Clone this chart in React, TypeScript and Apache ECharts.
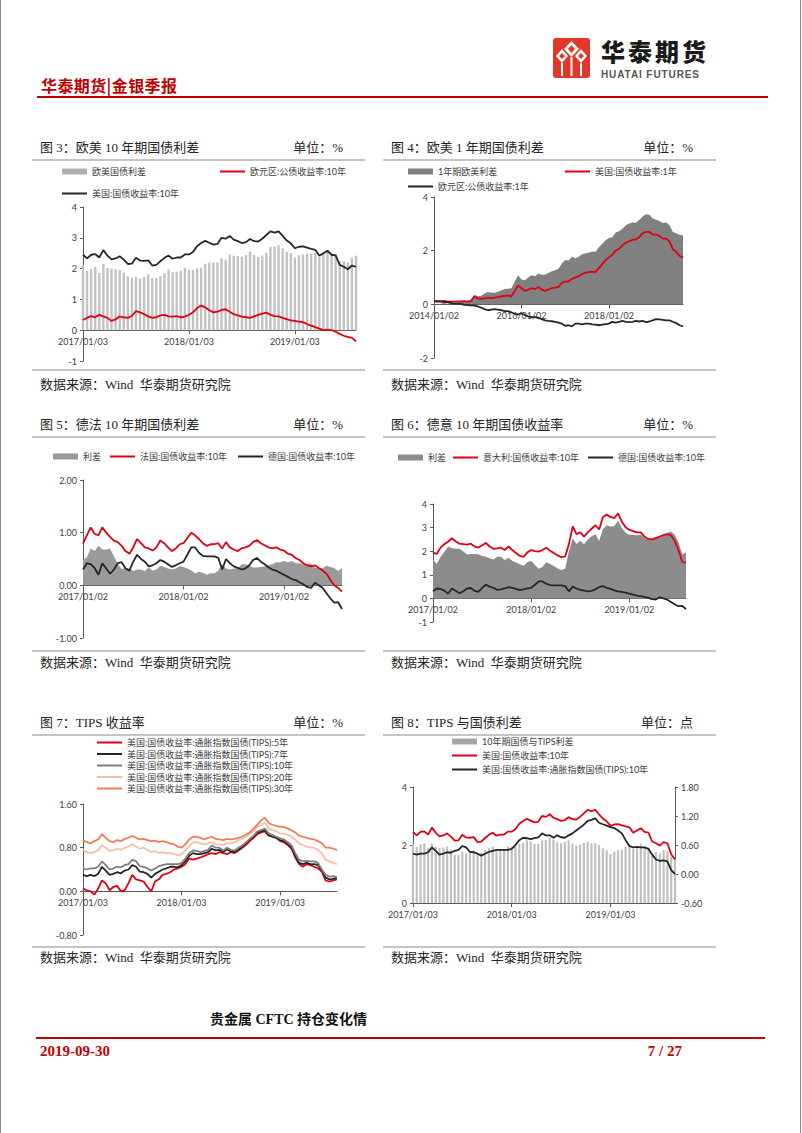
import React, { useEffect, useRef } from "react";
import * as echarts from "echarts";

// ---------- tick labels ----------
const ticks2017a = ["2017/01/03", "2018/01/03", "2019/01/03"];
const ticks2017b = ["2017/01/02", "2018/01/02", "2019/01/02"];
const ticks2014 = ["2014/01/02", "2016/01/02", "2018/01/02"];

// ---------- series values (~2-week steps) ----------
const usTen = [2.45, 2.33, 2.45, 2.47, 2.36, 2.6, 2.42, 2.3, 2.33, 2.4, 2.29, 2.15, 2.16, 2.35, 2.26, 2.25, 2.27, 2.1, 2.12, 2.24, 2.35, 2.42, 2.32, 2.36, 2.36, 2.46,
  2.46, 2.54, 2.73, 2.83, 2.9, 2.84, 2.78, 2.8, 3.0, 2.97, 3.06, 2.94, 2.89, 2.83, 2.86, 2.96, 2.89, 2.88, 2.97, 3.09, 3.21, 3.17, 3.21, 3.06, 2.91, 2.82,
  2.66, 2.71, 2.72, 2.68, 2.64, 2.61, 2.42, 2.5, 2.58, 2.45, 2.43, 2.12, 2.06, 1.98, 2.1, 2.06, 1.68, 1.5];
const euTen = [0.33, 0.4, 0.46, 0.42, 0.5, 0.45, 0.4, 0.3, 0.35, 0.45, 0.42, 0.4, 0.46, 0.62, 0.58, 0.52, 0.45, 0.4, 0.42, 0.48, 0.5, 0.45, 0.44, 0.46, 0.42, 0.44,
  0.5, 0.58, 0.72, 0.8, 0.74, 0.65, 0.58, 0.6, 0.66, 0.68, 0.6, 0.52, 0.48, 0.44, 0.42, 0.4, 0.45, 0.5, 0.54, 0.57, 0.5, 0.46, 0.45, 0.4, 0.36, 0.32,
  0.3, 0.28, 0.26, 0.2, 0.15, 0.1, 0.05, 0.0, 0.02, 0.0, -0.05, -0.12, -0.18, -0.22, -0.25, -0.36];

// 4-week steps from 2014/01/02
const usOne = [0.13, 0.1, 0.12, 0.13, 0.1, 0.1, 0.1, 0.11, 0.11, 0.12, 0.1, 0.13, 0.3, 0.22, 0.2, 0.22, 0.24, 0.23, 0.25, 0.27, 0.3, 0.32, 0.33, 0.3, 0.5, 0.7,
  0.6, 0.5, 0.55, 0.6, 0.57, 0.65, 0.55, 0.5, 0.55, 0.6, 0.62, 0.65, 0.8, 0.85, 0.85, 0.95, 1.0, 1.05, 1.12, 1.18, 1.2, 1.22, 1.2, 1.35, 1.5, 1.65,
  1.75, 1.85, 2.0, 2.07, 2.2, 2.3, 2.35, 2.4, 2.42, 2.5, 2.65, 2.7, 2.7, 2.6, 2.6, 2.55, 2.45, 2.45, 2.35, 2.05, 1.95, 1.8, 1.75];
const euOne = [0.1, 0.12, 0.1, 0.08, 0.08, 0.05, 0.03, 0.03, 0.02, -0.02, -0.03, -0.04, -0.05, -0.08, -0.12, -0.18, -0.22, -0.2, -0.18, -0.2, -0.22, -0.25, -0.25, -0.3, -0.35, -0.38,
  -0.33, -0.4, -0.45, -0.48, -0.48, -0.5, -0.55, -0.6, -0.62, -0.63, -0.65, -0.68, -0.72, -0.8, -0.78, -0.82, -0.72, -0.72, -0.75, -0.72, -0.72, -0.75, -0.76, -0.78, -0.76, -0.74,
  -0.72, -0.65, -0.68, -0.65, -0.62, -0.65, -0.66, -0.65, -0.62, -0.64, -0.62, -0.66, -0.64, -0.6, -0.55, -0.56, -0.58, -0.6, -0.6, -0.65, -0.7, -0.78, -0.82];

const frTen = [0.79, 0.95, 1.1, 0.98, 0.95, 1.1, 1.0, 0.92, 0.85, 0.82, 0.75, 0.65, 0.6, 0.72, 0.88, 0.8, 0.72, 0.7, 0.66, 0.72, 0.85, 0.8, 0.72, 0.65, 0.7, 0.78,
  0.8, 0.9, 1.0, 0.95, 0.88, 0.8, 0.75, 0.78, 0.78, 0.8, 0.7, 0.82, 0.72, 0.68, 0.65, 0.7, 0.72, 0.75, 0.82, 0.86, 0.8, 0.76, 0.72, 0.7, 0.72, 0.68,
  0.66, 0.6, 0.58, 0.52, 0.48, 0.42, 0.38, 0.36, 0.38, 0.33, 0.28, 0.22, 0.1, 0.0, -0.05, -0.12];
const deTen = [0.3, 0.42, 0.4, 0.33, 0.2, 0.42, 0.32, 0.22, 0.3, 0.42, 0.44, 0.32, 0.28, 0.45, 0.58, 0.5, 0.45, 0.36, 0.38, 0.42, 0.48, 0.45, 0.4, 0.35, 0.38, 0.42,
  0.45, 0.58, 0.72, 0.72, 0.62, 0.56, 0.55, 0.55, 0.55, 0.52, 0.3, 0.5, 0.42, 0.36, 0.33, 0.3, 0.32, 0.38, 0.48, 0.52, 0.45, 0.4, 0.34, 0.3, 0.28, 0.24,
  0.2, 0.16, 0.12, 0.1, 0.06, 0.02, -0.03, -0.05, 0.05, 0.0, -0.05, -0.15, -0.25, -0.33, -0.32, -0.45];
const itTen = [1.95, 1.88, 2.15, 2.3, 2.4, 2.55, 2.42, 2.32, 2.3, 2.28, 2.32, 2.2, 2.15, 2.25, 2.35, 2.2, 2.1, 2.12, 2.15, 2.05, 2.2, 2.05, 1.92, 1.8, 1.76, 1.95,
  2.05, 2.0, 1.98, 2.05, 2.15, 2.02, 1.92, 1.82, 1.75, 1.78, 2.3, 3.05, 2.72, 2.8, 2.62, 2.8, 2.95, 3.1, 2.92, 3.45, 3.55, 3.45, 3.4, 3.6, 3.25, 3.02,
  2.9, 2.85, 2.8, 2.8, 2.62, 2.52, 2.5, 2.55, 2.62, 2.68, 2.72, 2.68, 2.45, 2.05, 1.55, 1.5];

const tips5 = [0.05, 0.02, 0.0, -0.06, 0.05, 0.2, 0.15, 0.02, 0.08, 0.1, 0.0, 0.02, 0.15, 0.3, 0.22, 0.2, 0.18, 0.08, 0.0, 0.18, 0.22, 0.3, 0.32, 0.35, 0.4, 0.42,
  0.45, 0.5, 0.6, 0.58, 0.6, 0.62, 0.65, 0.68, 0.7, 0.68, 0.72, 0.7, 0.68, 0.72, 0.7, 0.75, 0.8, 0.85, 0.92, 0.98, 1.05, 1.08, 1.1, 1.02, 1.0, 0.98,
  0.92, 0.9, 0.85, 0.78, 0.62, 0.5, 0.45, 0.5, 0.48, 0.45, 0.42, 0.36, 0.2, 0.18, 0.2, 0.22];
const tips7 = [0.3, 0.28, 0.3, 0.28, 0.32, 0.45, 0.38, 0.3, 0.32, 0.35, 0.33, 0.38, 0.4, 0.48, 0.45, 0.36, 0.35, 0.32, 0.25, 0.32, 0.36, 0.4, 0.42, 0.45, 0.45, 0.44,
  0.48, 0.55, 0.65, 0.7, 0.68, 0.68, 0.7, 0.72, 0.78, 0.75, 0.76, 0.72, 0.77, 0.73, 0.72, 0.76, 0.82, 0.88, 0.95, 1.0, 1.08, 1.1, 1.12, 1.03, 1.0, 0.98,
  0.94, 0.92, 0.87, 0.8, 0.65, 0.52, 0.5, 0.52, 0.5, 0.5, 0.48, 0.38, 0.25, 0.22, 0.23, 0.25];
const tips10 = [0.42, 0.4, 0.42, 0.42, 0.45, 0.55, 0.48, 0.4, 0.42, 0.45, 0.44, 0.48, 0.5, 0.58, 0.55, 0.46, 0.45, 0.42, 0.38, 0.42, 0.46, 0.48, 0.5, 0.5, 0.5, 0.5,
  0.52, 0.6, 0.7, 0.75, 0.74, 0.72, 0.74, 0.76, 0.84, 0.8, 0.8, 0.75, 0.8, 0.76, 0.75, 0.8, 0.84, 0.9, 0.96, 1.02, 1.1, 1.12, 1.15, 1.06, 1.03, 1.0,
  0.97, 0.95, 0.9, 0.84, 0.7, 0.58, 0.55, 0.56, 0.55, 0.55, 0.52, 0.4, 0.3, 0.27, 0.28, 0.26, 0.08, 0.0];
const tips20 = [0.76, 0.72, 0.7, 0.72, 0.75, 0.85, 0.8, 0.74, 0.75, 0.78, 0.76, 0.8, 0.82, 0.86, 0.82, 0.78, 0.8, 0.76, 0.72, 0.74, 0.7, 0.72, 0.7, 0.7, 0.68, 0.66,
  0.68, 0.75, 0.82, 0.9, 0.9, 0.88, 0.86, 0.88, 0.9, 0.86, 0.86, 0.85, 0.88, 0.88, 0.9, 0.94, 0.96, 1.0, 1.05, 1.1, 1.18, 1.22, 1.26, 1.15, 1.12, 1.1,
  1.06, 1.05, 1.04, 1.0, 0.94, 0.88, 0.85, 0.82, 0.8, 0.8, 0.76, 0.7, 0.58, 0.55, 0.52, 0.5];
const tips30 = [0.94, 0.9, 0.88, 0.92, 0.95, 1.05, 0.98, 0.92, 0.9, 0.94, 0.92, 0.96, 0.98, 1.02, 0.98, 0.95, 0.96, 0.94, 0.92, 0.93, 0.9, 0.92, 0.9, 0.88, 0.86, 0.82,
  0.8, 0.86, 0.95, 1.0, 1.0, 0.98, 0.95, 0.98, 1.0, 0.96, 0.95, 0.94, 0.96, 0.95, 0.96, 0.98, 1.0, 1.04, 1.08, 1.15, 1.22, 1.3, 1.35, 1.25, 1.22, 1.2,
  1.18, 1.18, 1.15, 1.12, 1.08, 1.02, 1.0, 0.98, 0.96, 0.95, 0.92, 0.88, 0.8, 0.8, 0.78, 0.76];

// ---------- helpers ----------
function makeDates(start: string, stepDays: number, n: number) {
  const [y, m, d] = start.split("/").map(Number);
  const t0 = Date.UTC(y, m - 1, d);
  const p = (v: number) => String(v).padStart(2, "0");
  return Array.from({ length: n }, (_, i) => {
    const dt = new Date(t0 + i * stepDays * 86400000);
    return `${dt.getUTCFullYear()}/${p(dt.getUTCMonth() + 1)}/${p(dt.getUTCDate())}`;
  });
}
const spread = (a: number[], b: number[], n: number) =>
  a.slice(0, n).map((v, i) => Math.round((v - b[i]) * 100) / 100);

const datesA = makeDates("2017/01/03", 14, 70);
const datesB = makeDates("2017/01/02", 14, 68);
const datesC = makeDates("2014/01/02", 28, 75);

const RED = "#e00012";
const BLACK = "#262626";
const AX = "#595959";
const NUM_FONT = "Lato, 'Noto Sans', sans-serif";
const CJK_FONT = "Lato, 'Noto Sans CJK SC', sans-serif";
const SERIF = "'Liberation Serif', 'Noto Sans CJK SC', serif";

// x axis placed at the zero of the value axis (offset from the grid bottom)
function xCat(dates: string[], labels: string[], every: number, gridH: number, yMin: number, yMax: number) {
  const offset = -gridH * (0 - yMin) / (yMax - yMin);
  return {
    type: "category",
    data: dates,
    boundaryGap: false,
    offset,
    axisLine: { onZero: false, lineStyle: { color: AX, width: 1 } },
    axisTick: { show: true, length: 4, interval: (i: number) => i % every === 0, lineStyle: { color: AX } },
    axisLabel: {
      interval: (i: number) => i % every === 0,
      formatter: (_v: string, i: number) => labels[Math.round(i / every)] ?? "",
      fontFamily: NUM_FONT, fontSize: 9, color: "#404040", margin: 7,
    },
    splitLine: { show: false },
  };
}
function yVal(min: number, max: number, interval: number, dec: number, position = "left") {
  return {
    type: "value", position, min, max, interval,
    axisLine: { show: true, onZero: false, lineStyle: { color: AX } },
    axisTick: { show: true, length: 3, lineStyle: { color: AX } },
    splitLine: { show: false },
    axisLabel: { formatter: (v: number) => v.toFixed(dec), fontFamily: NUM_FONT, fontSize: 9, color: "#404040", margin: 6 },
  };
}
function leg(name: string, left: number, top: number, color: string, thick: boolean) {
  return {
    left, top, padding: 0, itemWidth: 25, itemHeight: thick ? 6 : 2, itemGap: 0, selectedMode: false,
    icon: "rect", itemStyle: { borderWidth: 0 },
    textStyle: { fontFamily: CJK_FONT, fontSize: 9, color: "#404040" },
    data: [{ name, icon: "rect", itemStyle: { color, borderWidth: 0 } }],
  };
}
const line = (name: string, data: number[], color: string, yAxisIndex = 0) => ({
  type: "line", name, data, yAxisIndex, symbol: "none", showSymbol: false,
  lineStyle: { color, width: 1.8 }, itemStyle: { color },
});
const area = (name: string, data: number[], color: string) => ({
  type: "line", name, data, symbol: "none", showSymbol: false,
  lineStyle: { width: 0, color }, itemStyle: { color }, areaStyle: { color, opacity: 1 },
});
const bar = (name: string, data: number[], color: string, w: number) => ({
  type: "bar", name, data, barWidth: w, itemStyle: { color },
});

// ---------- options ----------
const opt3 = {
  grid: { left: 53, top: 44, width: 273, height: 154 },
  legend: [
    leg("欧美国债利差", 32, 4, "#b0b0b0", true),
    leg("欧元区:公债收益率:10年", 190, 4, RED, false),
    leg("美国:国债收益率:10年", 32, 26, BLACK, false),
  ],
  xAxis: xCat(datesA.slice(0, 68), ticks2017a, 26, 154, -1, 4),
  yAxis: yVal(-1, 4, 1, 0),
  series: [
    bar("欧美国债利差", spread(usTen, euTen, 68), "#c2c2c2", 2.4),
    line("欧元区:公债收益率:10年", euTen, RED),
    line("美国:国债收益率:10年", usTen.slice(0, 68), BLACK),
  ],
};
const opt4 = {
  grid: { left: 49, top: 34, width: 249, height: 161 },
  legend: [
    leg("1年期欧美利差", 23, 4, "#808080", true),
    leg("美国:国债收益率:1年", 180, 4, RED, false),
    leg("欧元区:公债收益率:1年", 23, 19, BLACK, false),
  ],
  xAxis: xCat(datesC, ticks2014, 26, 161, -2, 4),
  yAxis: yVal(-2, 4, 2, 0),
  series: [
    area("1年期欧美利差", spread(usOne, euOne, 75), "#808080"),
    line("美国:国债收益率:1年", usOne, RED),
    line("欧元区:公债收益率:1年", euOne, BLACK),
  ],
};
const opt5 = {
  grid: { left: 53, top: 40, width: 259, height: 158 },
  legend: [
    leg("利差", 23, 12, "#999999", true),
    leg("法国:国债收益率:10年", 80, 12, RED, false),
    leg("德国:国债收益率:10年", 208, 12, BLACK, false),
  ],
  xAxis: xCat(datesB, ticks2017b, 26, 158, -1, 2),
  yAxis: yVal(-1, 2, 1, 2),
  series: [
    area("利差", spread(frTen, deTen, 68), "#9a9a9a"),
    line("法国:国债收益率:10年", frTen, RED),
    line("德国:国债收益率:10年", deTen, BLACK),
  ],
};
const opt6 = {
  grid: { left: 48, top: 64, width: 253, height: 118 },
  legend: [
    leg("利差", 13, 13, "#8c8c8c", true),
    leg("意大利:国债收益率:10年", 68, 13, RED, false),
    leg("德国:国债收益率:10年", 203, 13, BLACK, false),
  ],
  xAxis: xCat(datesB, ticks2017b, 26, 118, -1, 4),
  yAxis: yVal(-1, 4, 1, 0),
  series: [
    area("利差", spread(itTen, deTen, 68), "#8c8c8c"),
    line("意大利:国债收益率:10年", itTen, RED),
    line("德国:国债收益率:10年", deTen, BLACK),
  ],
};
const tipsNames = [
  "美国:国债收益率:通胀指数国债(TIPS):5年",
  "美国:国债收益率:通胀指数国债(TIPS):7年",
  "美国:国债收益率:通胀指数国债(TIPS):10年",
  "美国:国债收益率:通胀指数国债(TIPS):20年",
  "美国:国债收益率:通胀指数国债(TIPS):30年",
];
const tipsColors = ["#e00012", "#262626", "#7f7f7f", "#f5c0aa", "#f07d58"];
const tipsData = [tips5, tips7, tips10.slice(0, 68), tips20, tips30];
const opt7 = {
  grid: { left: 53, top: 67, width: 254, height: 131 },
  legend: tipsNames.map((n, i) => leg(n, 67, 1 + i * 11.5, tipsColors[i], false)),
  xAxis: xCat(datesA.slice(0, 68), ticks2017a, 26, 131, -0.8, 1.6),
  yAxis: yVal(-0.8, 1.6, 0.8, 2),
  series: tipsNames.map((n, i) => line(n, tipsData[i], tipsColors[i])),
};
const opt8 = {
  grid: { left: 27, top: 50, width: 263, height: 116 },
  legend: [
    leg("10年期国债与TIPS利差", 67, 0, "#a6a6a6", true),
    leg("美国:国债收益率:10年", 67, 14, RED, false),
    leg("美国:国债收益率:通胀指数国债(TIPS):10年", 67, 28, BLACK, false),
  ],
  xAxis: xCat(datesA, ticks2017a, 26, 116, 0, 4),
  yAxis: [yVal(0, 4, 2, 0), yVal(-0.6, 1.8, 0.6, 2, "right")],
  series: [
    bar("10年期国债与TIPS利差", spread(usTen, tips10, 70), "#bfbfbf", 2.2),
    line("美国:国债收益率:10年", usTen, RED),
    line("美国:国债收益率:通胀指数国债(TIPS):10年", tips10, BLACK, 1),
  ],
};

// ---------- components ----------
function EChart({ box, option }: { box: number[]; option: any }) {
  const ref = useRef<HTMLDivElement>(null);
  useEffect(() => {
    if (!ref.current) return;
    const chart = echarts.init(ref.current, undefined, { renderer: "svg" });
    chart.setOption({ animation: false, ...option });
    return () => chart.dispose();
  }, [option]);
  return <div ref={ref} style={{ position: "absolute", left: box[0], top: box[1], width: box[2], height: box[3] }} />;
}

function Txt({ x, y, right, children, style }: any) {
  const base: any = { position: "absolute", top: y - 9, lineHeight: "18px", whiteSpace: "pre", fontFamily: SERIF, fontSize: 13, color: "#262626" };
  if (right !== undefined) base.right = 802 - right;
  else base.left = x;
  return <div style={{ ...base, ...style }}>{children}</div>;
}
function HLine({ x1, x2, y, color = "#c4c4c4", h = 2 }: any) {
  return <div style={{ position: "absolute", left: x1, top: y - h / 2, width: x2 - x1, height: h, background: color }} />;
}

function Panel({ lx, rx, titleY, topLine, bottomLine, srcY, title, unit }: any) {
  return (
    <>
      <Txt x={lx} y={titleY}>{title}</Txt>
      <Txt right={rx} y={titleY}>{unit}</Txt>
      <HLine x1={lx - 8} x2={lx + 325} y={topLine} />
      <HLine x1={lx - 8} x2={lx + 325} y={bottomLine} />
      <Txt x={lx} y={srcY}>{"数据来源：Wind  华泰期货研究院"}</Txt>
    </>
  );
}

function Logo() {
  const W = "#ffffff";
  return (
    <svg width={37} height={40} style={{ position: "absolute", left: 553, top: 38 }}>
      <rect x={0} y={0} width={37} height={40} rx={3} fill="#e2382b" />
      <polygon points="18.5,3 26,11 18.5,19 11,11" fill={W} />
      <polygon points="18.5,7 22,11 18.5,15 15,11" fill="#e2382b" />
      <polygon points="9,11 15,18 9,25 3,18" fill={W} />
      <polygon points="9,15 12,18 9,21 6,18" fill="#e2382b" />
      <polygon points="28,11 34,18 28,25 22,18" fill={W} />
      <polygon points="28,15 31,18 28,21 25,18" fill="#e2382b" />
      <rect x={8} y={25} width={2} height={13} fill={W} />
      <rect x={17.5} y={19} width={2} height={19} fill={W} />
      <rect x={27} y={25} width={2} height={13} fill={W} />
    </svg>
  );
}

export default function App() {
  useEffect(() => {
    document.body.style.margin = "0";
  }, []);
  const RED_TXT = "#c00000";
  return (
    <div style={{ position: "absolute", left: 0, top: 0, width: 802, height: 1133, background: "#fff", overflow: "hidden" }}>
      <div style={{ position: "absolute", left: 0, top: 0, width: 1, height: 1133, background: "#8a8a8a" }} />
      <div style={{ position: "absolute", left: 800, top: 0, width: 1, height: 1133, background: "#8a8a8a" }} />

      <Logo />
      <div style={{ position: "absolute", left: 601, top: 39, fontFamily: "'Noto Sans CJK SC', sans-serif", fontWeight: 900, fontSize: 24, lineHeight: "24px", letterSpacing: 3, color: "#1a1a1a" }}>华泰期货</div>
      <div style={{ position: "absolute", left: 601, top: 70, fontFamily: "'Liberation Sans', Arial, sans-serif", fontWeight: 700, fontSize: 10, lineHeight: "10px", color: "#555", letterSpacing: 0.9 }}>HUATAI FUTURES</div>
      <Txt x={41} y={85} style={{ color: RED_TXT, fontSize: 16, fontWeight: 700, letterSpacing: 0.4, fontFamily: "'Noto Sans CJK SC', sans-serif" }}>华泰期货|金银季报</Txt>
      <HLine x1={37} x2={768} y={96.5} color={RED_TXT} h={2} />

      <Panel lx={40} rx={343} titleY={148} topLine={160} bottomLine={370} srcY={385} title="图 3：欧美 10 年期国债利差" unit="单位：%" />
      <Panel lx={391} rx={693} titleY={148} topLine={160} bottomLine={370} srcY={385} title="图 4：欧美 1 年期国债利差" unit="单位：%" />
      <Panel lx={40} rx={343} titleY={425} topLine={437} bottomLine={651} srcY={663} title="图 5：德法 10 年期国债利差" unit="单位：%" />
      <Panel lx={391} rx={693} titleY={425} topLine={437} bottomLine={651} srcY={663} title="图 6：德意 10 年期国债收益率" unit="单位：%" />
      <Panel lx={40} rx={343} titleY={723} topLine={735} bottomLine={947} srcY={958} title="图 7：TIPS 收益率" unit="单位：%" />
      <Panel lx={391} rx={693} titleY={723} topLine={735} bottomLine={947} srcY={958} title="图 8：TIPS 与国债利差" unit="单位：点" />

      <EChart box={[30, 163, 335, 207]} option={opt3} />
      <EChart box={[385, 163, 330, 200]} option={opt4} />
      <EChart box={[30, 440, 335, 205]} option={opt5} />
      <EChart box={[385, 440, 330, 200]} option={opt6} />
      <EChart box={[30, 737, 335, 205]} option={opt7} />
      <EChart box={[385, 737, 330, 205]} option={opt8} />

      <Txt x={210} y={1020} style={{ fontWeight: 700, fontSize: 14, color: "#111" }}>贵金属 CFTC 持仓变化情</Txt>
      <HLine x1={36} x2={765} y={1038} color={RED_TXT} h={2} />
      <Txt x={40} y={1051} style={{ fontWeight: 700, fontSize: 15, color: RED_TXT }}>2019-09-30</Txt>
      <Txt right={682} y={1051} style={{ fontWeight: 700, fontSize: 15, color: RED_TXT }}>7 / 27</Txt>
    </div>
  );
}
